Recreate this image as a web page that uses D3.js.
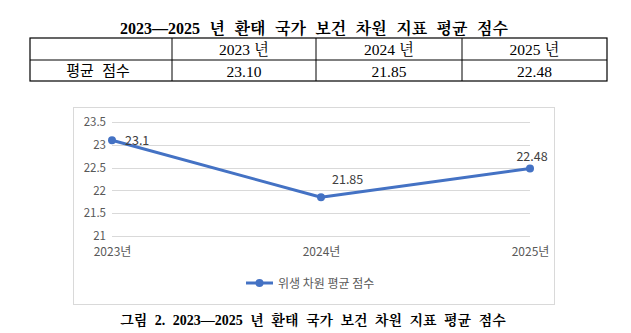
<!DOCTYPE html>
<html><head><meta charset="utf-8">
<script src="https://cdn.jsdelivr.net/npm/d3@7"></script>
<style>body{margin:0;background:#fff}svg{display:block}</style>
</head><body>
<svg id="c" width="631" height="333"></svg>
<script>
const tableTitle = "2023—2025 년 환태 국가 보건 차원 지표 평균 점수";
const tableHeaders = ["2023 년", "2024 년", "2025 년"];
const tableRowLabel = "평균 점수";
const tableValues = ["23.10", "21.85", "22.48"];
const categories = ["2023년", "2024년", "2025년"];
const values = [23.1, 21.85, 22.48];
const valueLabels = ["23.1", "21.85", "22.48"];
const yTicks = [21, 21.5, 22, 22.5, 23, 23.5];
const seriesName = "위생 차원 평균 점수";
const caption = "그림 2. 2023—2025 년 환태 국가 보건 차원 지표 평균 점수";

const svg = d3.select("#c");
const serif = "'Liberation Serif','Noto Serif CJK KR','Noto Sans CJK KR',serif";
const sans = "'Noto Sans CJK KR','Noto Sans',sans-serif";

// Table title
svg.append("text").attr("x", 314).attr("y", 34).attr("text-anchor", "middle")
  .attr("font-family", serif).attr("font-weight", "bold").attr("font-size", 16)
  .attr("word-spacing", 5.5).attr("fill", "#000").text(tableTitle);

// Table
const colX = [30, 172, 316, 462, 607];
const rowY = [38, 60, 81];
const tg = svg.append("g");
tg.append("rect").attr("x", colX[0]).attr("y", rowY[0]).attr("width", colX[4]-colX[0])
  .attr("height", rowY[2]-rowY[0]).attr("fill", "none").attr("stroke", "#000").attr("stroke-width", 1.2);
tg.append("line").attr("x1", colX[0]).attr("x2", colX[4]).attr("y1", rowY[1]).attr("y2", rowY[1])
  .attr("stroke", "#000").attr("stroke-width", 1);
colX.slice(1, 4).forEach(x => tg.append("line").attr("x1", x).attr("x2", x)
  .attr("y1", rowY[0]).attr("y2", rowY[2]).attr("stroke", "#000").attr("stroke-width", 1));
tableHeaders.forEach((h, i) => tg.append("text")
  .attr("x", (colX[i+1]+colX[i+2])/2).attr("y", 55).attr("text-anchor", "middle")
  .attr("font-family", serif).attr("font-size", 15.5).attr("fill", "#000").text(h));
tg.append("text").attr("x", 98).attr("y", 76).attr("text-anchor", "middle")
  .attr("font-family", sans).attr("font-size", 15).attr("word-spacing", 5).attr("fill", "#000").text(tableRowLabel);
tableValues.forEach((v, i) => tg.append("text")
  .attr("x", (colX[i+1]+colX[i+2])/2).attr("y", 76.5).attr("text-anchor", "middle")
  .attr("font-family", serif).attr("font-size", 15.5).attr("fill", "#000").text(v));

// Chart box
svg.append("rect").attr("x", 73.5).attr("y", 107.5).attr("width", 481).attr("height", 197)
  .attr("fill", "#fff").attr("stroke", "#d9d9d9").attr("stroke-width", 1);

const x = d3.scalePoint().domain(categories).range([112, 530]);
const y = d3.scaleLinear().domain([21, 23.5]).range([236, 122]);

const grid = svg.append("g");
yTicks.forEach(t => grid.append("line").attr("x1", 112).attr("x2", 530)
  .attr("y1", Math.round(y(t))+0.5).attr("y2", Math.round(y(t))+0.5)
  .attr("stroke", "#d9d9d9").attr("stroke-width", 1));

const yAxis = d3.axisLeft(y).tickValues(yTicks).tickSize(0).tickPadding(0).tickFormat(d => String(d));
const ya = svg.append("g").attr("transform", "translate(106,0)").call(yAxis);
ya.select(".domain").remove();
ya.selectAll("text").attr("font-family", sans).attr("font-size", 11.5).attr("fill", "#595959");

const xAxis = d3.axisBottom(x).tickSize(0).tickPadding(0);
const xa = svg.append("g").attr("transform", "translate(0,249)").call(xAxis);
xa.select(".domain").remove();
xa.selectAll("text").attr("font-family", sans).attr("font-size", 12).attr("fill", "#595959")
  .attr("dy", null).attr("y", 9).attr("dominant-baseline", "middle");
xa.selectAll("text").attr("y", 4);

const line = d3.line().x((d, i) => x(categories[i])).y(d => y(d));
svg.append("path").datum(values).attr("d", line).attr("fill", "none")
  .attr("stroke", "#4472C4").attr("stroke-width", 3).attr("stroke-linejoin", "round");
svg.selectAll("circle.pt").data(values).enter().append("circle").attr("class", "pt")
  .attr("cx", (d, i) => x(categories[i])).attr("cy", d => y(d)).attr("r", 4).attr("fill", "#4472C4");

// Data labels
const lblOffsets = [[13, 4.5, "start"], [11, -13, "start"], [2, -8, "middle"]];
values.forEach((v, i) => svg.append("text")
  .attr("x", x(categories[i]) + lblOffsets[i][0]).attr("y", y(v) + lblOffsets[i][1])
  .attr("text-anchor", lblOffsets[i][2]).attr("font-family", sans).attr("font-size", 12.5)
  .attr("fill", "#404040").text(valueLabels[i]));

// Legend
const lg = svg.append("g");
lg.append("line").attr("x1", 246).attr("x2", 273).attr("y1", 283).attr("y2", 283)
  .attr("stroke", "#4472C4").attr("stroke-width", 3);
lg.append("circle").attr("cx", 259.5).attr("cy", 283).attr("r", 4).attr("fill", "#4472C4");
lg.append("text").attr("x", 278).attr("y", 287.5).attr("font-family", sans).attr("font-size", 12)
  .attr("fill", "#595959").text(seriesName);

// Caption
svg.append("text").attr("x", 313).attr("y", 325).attr("text-anchor", "middle")
  .attr("font-family", serif).attr("font-weight", "bold").attr("font-size", 14)
  .attr("word-spacing", 4).attr("fill", "#000").text(caption);
</script>
</body></html>
